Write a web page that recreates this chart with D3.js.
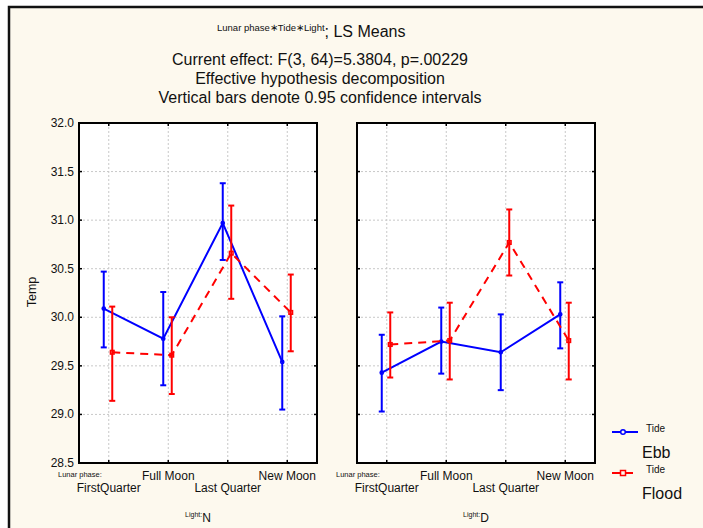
<!DOCTYPE html>
<html>
<head>
<meta charset="utf-8">
<script src="https://cdn.jsdelivr.net/npm/d3@7"></script>
<style>
  body { margin: 0; background: #fff; }
  text { font-family: "Liberation Sans", Arial, sans-serif; fill: #111; }
</style>
</head>
<body>
<script>
// Lunar phase * Tide * Light, LS means with 0.95 CIs
var phases = ["FirstQuarter", "Full Moon", "Last Quarter", "New Moon"];
var lights = ["N", "D"];
var yTicks = [28.5, 29.0, 29.5, 30.0, 30.5, 31.0, 31.5, 32.0];

// [mean, low, high] per phase
var ebbN   = [[30.09, 29.69, 30.47], [29.78, 29.30, 30.26], [30.97, 30.59, 31.38], [29.54, 29.05, 30.01]];
var floodN = [[29.64, 29.14, 30.11], [29.61, 29.21, 30.00], [30.66, 30.19, 31.15], [30.05, 29.65, 30.44]];
var ebbD   = [[29.43, 29.03, 29.82], [29.75, 29.42, 30.10], [29.64, 29.25, 30.03], [30.03, 29.68, 30.36]];
var floodD = [[29.72, 29.38, 30.05], [29.76, 29.36, 30.15], [30.77, 30.43, 31.11], [29.76, 29.36, 30.15]];

var W = 703, H = 528;
var bg = "#fdf9ee";
var svg = d3.select("body").append("svg")
    .attr("width", W)
    .attr("height", H);

svg.append("rect")
    .attr("x", 9).attr("y", 7)
    .attr("width", W).attr("height", H)
    .attr("fill", bg)
    .attr("stroke", "#111")
    .attr("stroke-width", 2.5);

// titles
var t1 = svg.append("text").attr("x", 217).attr("y", 37).attr("font-size", 16);
t1.append("tspan").attr("font-size", 9.5).attr("dy", -6).text("Lunar phase\u2217Tide\u2217Light");
t1.append("tspan").attr("dy", 6).text("; LS Means");
svg.append("text").attr("x", 320).attr("y", 65).attr("text-anchor", "middle").attr("font-size", 16)
    .text("Current effect: F(3, 64)=5.3804, p=.00229");
svg.append("text").attr("x", 320).attr("y", 84).attr("text-anchor", "middle").attr("font-size", 16)
    .text("Effective hypothesis decomposition");
svg.append("text").attr("x", 320).attr("y", 103).attr("text-anchor", "middle").attr("font-size", 16)
    .text("Vertical bars denote 0.95 confidence intervals");

var plotTop = 123, plotBottom = 463;
var y = d3.scaleLinear().domain([28.5, 32.0]).range([plotBottom, plotTop]);

svg.append("text")
    .attr("transform", "translate(36,292) rotate(-90)")
    .attr("text-anchor", "middle")
    .attr("font-size", 12.5)
    .text("Temp");

var panels = [
  {left: 79, right: 317, light: lights[0], ebb: ebbN, flood: floodN},
  {left: 357, right: 595, light: lights[1], ebb: ebbD, flood: floodD}
];

var line = d3.line().x(function(d) { return d[0]; }).y(function(d) { return d[1]; });

panels.forEach(function(p, pi) {
  var x = d3.scaleBand().domain(phases).range([p.left, p.right]);
  var cx = function(c) { return x(c) + x.bandwidth() / 2; };
  var g = svg.append("g");

  g.append("rect")
      .attr("x", p.left).attr("y", plotTop)
      .attr("width", p.right - p.left).attr("height", plotBottom - plotTop)
      .attr("fill", "#fff");

  // grid
  g.selectAll(".hg").data(yTicks.slice(1, -1)).enter().append("line")
      .attr("x1", p.left).attr("x2", p.right)
      .attr("y1", function(d) { return y(d); }).attr("y2", function(d) { return y(d); })
      .attr("stroke", "#c8c8c8").attr("stroke-dasharray", "2,2");
  g.selectAll(".vg").data(phases).enter().append("line")
      .attr("x1", cx).attr("x2", cx)
      .attr("y1", plotTop).attr("y2", plotBottom)
      .attr("stroke", "#c8c8c8").attr("stroke-dasharray", "2,2");

  // inward ticks
  g.selectAll(".tl").data(yTicks).enter().append("line")
      .attr("x1", p.left).attr("x2", p.left + 3)
      .attr("y1", function(d) { return y(d); }).attr("y2", function(d) { return y(d); })
      .attr("stroke", "#000").attr("stroke-width", 1.5);
  g.selectAll(".tr").data(yTicks).enter().append("line")
      .attr("x1", p.right - 3).attr("x2", p.right)
      .attr("y1", function(d) { return y(d); }).attr("y2", function(d) { return y(d); })
      .attr("stroke", "#000").attr("stroke-width", 1.5);
  g.selectAll(".tb").data(phases).enter().append("line")
      .attr("x1", cx).attr("x2", cx)
      .attr("y1", plotBottom - 3).attr("y2", plotBottom)
      .attr("stroke", "#000").attr("stroke-width", 1.5);
  g.selectAll(".tt").data(phases).enter().append("line")
      .attr("x1", cx).attr("x2", cx)
      .attr("y1", plotTop).attr("y2", plotTop + 3)
      .attr("stroke", "#000").attr("stroke-width", 1.5);

  if (pi === 0) {
    g.selectAll(".yl").data(yTicks).enter().append("text")
        .attr("x", p.left - 5).attr("y", function(d) { return y(d) + 4; })
        .attr("text-anchor", "end").attr("font-size", 12)
        .text(function(d) { return d.toFixed(1); });
  }

  // series
  var series = [
    {data: p.ebb, color: "#0000ff", dx: -5, dash: null, mark: "circle"},
    {data: p.flood, color: "#ff0000", dx: 3.5, dash: "8,6", mark: "square"}
  ];
  series.forEach(function(s) {
    var pts = s.data.map(function(d, i) { return [cx(phases[i]) + s.dx, y(d[0])]; });
    g.append("path")
        .attr("d", line(pts))
        .attr("fill", "none")
        .attr("stroke", s.color)
        .attr("stroke-width", 2)
        .attr("stroke-dasharray", s.dash);
    s.data.forEach(function(d, i) {
      var xx = cx(phases[i]) + s.dx;
      g.append("line").attr("x1", xx).attr("x2", xx)
          .attr("y1", y(d[1])).attr("y2", y(d[2]))
          .attr("stroke", s.color).attr("stroke-width", 2);
      [d[1], d[2]].forEach(function(v) {
        g.append("line").attr("x1", xx - 3).attr("x2", xx + 3)
            .attr("y1", y(v)).attr("y2", y(v))
            .attr("stroke", s.color).attr("stroke-width", 2);
      });
      if (s.mark === "circle") {
        g.append("circle").attr("cx", xx).attr("cy", y(d[0])).attr("r", 1.6)
            .attr("fill", "none").attr("stroke", s.color).attr("stroke-width", 1.5);
      } else {
        g.append("rect").attr("x", xx - 1.8).attr("y", y(d[0]) - 1.8)
            .attr("width", 3.6).attr("height", 3.6)
            .attr("fill", "none").attr("stroke", s.color).attr("stroke-width", 1.5);
      }
    });
  });

  // frame
  g.append("rect")
      .attr("x", p.left).attr("y", plotTop)
      .attr("width", p.right - p.left).attr("height", plotBottom - plotTop)
      .attr("fill", "none").attr("stroke", "#000").attr("stroke-width", 2);

  // category labels (staggered)
  g.append("text").attr("x", p.left - 21).attr("y", 477).attr("font-size", 7.5).text("Lunar phase:");
  g.selectAll(".xl").data(phases).enter().append("text")
      .attr("x", cx)
      .attr("y", function(d, i) { return i % 2 === 0 ? 492 : 480; })
      .attr("text-anchor", "middle").attr("font-size", 12)
      .text(function(d) { return d; });

  var lt = g.append("text")
      .attr("x", (p.left + p.right) / 2).attr("y", 522)
      .attr("text-anchor", "middle").attr("font-size", 12);
  lt.append("tspan").attr("font-size", 7).attr("dy", -5).text("Light:");
  lt.append("tspan").attr("dy", 5).text(p.light);
});

// legend
var legend = [
  {name: "Ebb", color: "#0000ff", dash: null, mark: "circle", y: 432},
  {name: "Flood", color: "#ff0000", dash: "8,5", mark: "square", y: 473}
];
legend.forEach(function(l) {
  svg.append("line").attr("x1", 612).attr("x2", 638)
      .attr("y1", l.y).attr("y2", l.y)
      .attr("stroke", l.color).attr("stroke-width", 2)
      .attr("stroke-dasharray", l.dash);
  if (l.mark === "circle") {
    svg.append("circle").attr("cx", 623).attr("cy", l.y).attr("r", 2.3)
        .attr("fill", bg).attr("stroke", l.color).attr("stroke-width", 1.5);
  } else {
    svg.append("rect").attr("x", 620.5).attr("y", l.y - 2.5).attr("width", 5).attr("height", 5)
        .attr("fill", bg).attr("stroke", l.color).attr("stroke-width", 1.5);
  }
  svg.append("text").attr("x", 646).attr("y", l.y).attr("font-size", 10).text("Tide");
  svg.append("text").attr("x", 642).attr("y", l.y + 26).attr("font-size", 16).text(l.name);
});
</script>
</body>
</html>
